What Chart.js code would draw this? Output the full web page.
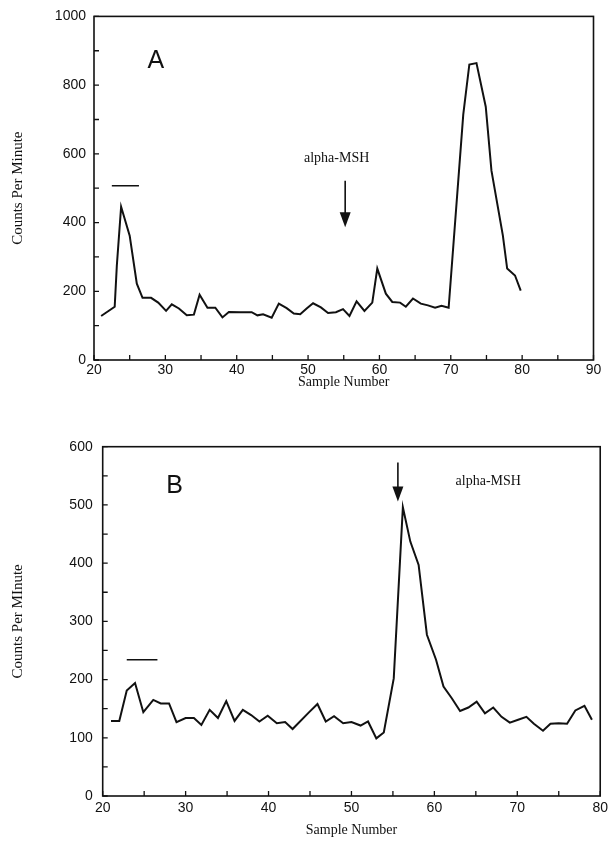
<!DOCTYPE html>
<html>
<head>
<meta charset="utf-8">
<script src="https://cdn.jsdelivr.net/npm/chart.js@4.4.1/dist/chart.umd.min.js"></script>
<style>
  html, body { margin: 0; padding: 0; background: #fff; }
  canvas { position: absolute; left: 0; }
  #chartA { top: 0; }
  #chartB { top: 400px; }
</style>
</head>
<body>
<canvas id="chartA" width="612" height="400"></canvas>
<canvas id="chartB" width="612" height="447"></canvas>
<script>
"use strict";
const INK = '#111111';

// Panel A : sample number / counts per minute
const sampleA = [21, 22.9, 23.2, 23.8, 25.0, 26.0, 26.8, 28.0, 29.0, 30.1, 30.9, 31.9, 33.0, 34.0, 34.8, 35.9, 37.0, 38.0, 38.9, 40.5,
  42.1, 42.9, 43.7, 44.9, 45.9, 47.0, 48.0, 48.9, 49.8, 50.7, 51.8, 52.8, 53.9, 54.9, 55.8, 56.8, 57.9, 59.0, 59.7, 60.9,
  61.8, 62.9, 63.7, 64.7, 65.8, 66.8, 67.8, 68.7, 69.7, 71.75, 72.6, 73.6, 74.9, 75.7, 77.3, 77.9, 79.0, 79.8];
const countsA = [128, 155, 275, 446, 362, 222, 181, 181, 167, 143, 162, 150, 130, 132, 190, 152, 152, 124, 140, 139,
  139, 130, 133, 123, 164, 151, 135, 133, 150, 165, 153, 137, 139, 148, 128, 171, 143, 167, 266, 193,
  169, 167, 155, 179, 164, 159, 152, 158, 152, 715, 860, 864, 737, 551, 362, 266, 246, 202];

// Panel B
const sampleB = [21, 22, 22.9, 23.9, 24.9, 26.1, 27, 28, 28.9, 30, 31, 31.9, 32.9, 33.9, 34.9, 35.9, 36.9, 37.9, 38.9, 39.9,
  41, 42, 42.9, 44.9, 45.9, 46.9, 47.9, 49, 50, 51.1, 52, 53, 53.9, 55.1, 56.2, 57.1, 58.1, 59.1, 60.2, 61.1,
  62.1, 63.1, 64.1, 65.1, 66.1, 67.1, 68.1, 69.1, 70.1, 71.1, 72, 73.1, 74, 75, 76, 77, 78.1, 79];
const countsB = [129, 129, 181, 194, 144, 165, 159, 159, 127, 134, 134, 122, 148, 134, 163, 129, 148, 139, 128, 138,
  125, 127, 115, 144, 158, 128, 137, 125, 127, 121, 128, 99, 109, 202, 496, 437, 397, 277, 234, 188,
  168, 146, 152, 162, 142, 152, 136, 126, 131, 136, 124, 112, 124, 125, 124, 147, 155, 131];

// notes drawn on the plots (data coordinates)
const notesA = { letter: ['A', 28.65, 870], bar: [22.5, 26.3, 507], text: ['alpha-MSH', 54.0, 588], arrow: [55.2, 522, 386] };
const notesB = { letter: ['B', 28.66, 532], bar: [22.9, 26.6, 234], text: ['alpha-MSH', 66.5, 541], arrow: [55.6, 573, 506] };

// cadre + graduations vers l'intérieur + annotations
const boxTicks = {
  id: 'boxTicks',
  afterDraw(chart, args, opts) {
    const { ctx, chartArea: a, scales: { x, y } } = chart;
    ctx.save();
    ctx.strokeStyle = INK;
    ctx.fillStyle = INK;
    ctx.lineWidth = 1.6;
    ctx.strokeRect(a.left, a.top, a.right - a.left, a.bottom - a.top);
    ctx.lineWidth = 1.3;
    ctx.beginPath();
    for (let v = x.min; v <= x.max; v += opts.xStep) {
      const px = x.getPixelForValue(v);
      ctx.moveTo(px, a.bottom);
      ctx.lineTo(px, a.bottom - 5);
    }
    for (let v = y.min; v <= y.max; v += opts.yStep) {
      const py = y.getPixelForValue(v);
      ctx.moveTo(a.left, py);
      ctx.lineTo(a.left + 5, py);
    }
    ctx.stroke();

    const n = opts.notes;
    ctx.textAlign = 'center';
    ctx.textBaseline = 'middle';
    ctx.font = '25px "Liberation Sans", Arial, sans-serif';
    ctx.fillText(n.letter[0], x.getPixelForValue(n.letter[1]), y.getPixelForValue(n.letter[2]));
    ctx.font = '14px "Liberation Serif", "Times New Roman", serif';
    ctx.fillText(n.text[0], x.getPixelForValue(n.text[1]), y.getPixelForValue(n.text[2]));

    ctx.lineWidth = 1.6;
    ctx.beginPath();
    const by = y.getPixelForValue(n.bar[2]);
    ctx.moveTo(x.getPixelForValue(n.bar[0]), by);
    ctx.lineTo(x.getPixelForValue(n.bar[1]), by);
    const ax = x.getPixelForValue(n.arrow[0]);
    const ay0 = y.getPixelForValue(n.arrow[1]);
    const ay1 = y.getPixelForValue(n.arrow[2]);
    ctx.moveTo(ax, ay0);
    ctx.lineTo(ax, ay1 - 10);
    ctx.stroke();
    ctx.beginPath();
    ctx.moveTo(ax - 5.5, ay1 - 15);
    ctx.lineTo(ax + 5.5, ay1 - 15);
    ctx.lineTo(ax, ay1);
    ctx.closePath();
    ctx.fill();
    ctx.restore();
  }
};

function makeChart(id, xs, ys, cfg) {
  const points = xs.map((s, i) => ({ x: s, y: ys[i] }));
  const tickFont = { family: '"Liberation Sans", Arial, sans-serif', size: 14 };
  return new Chart(document.getElementById(id), {
    type: 'line',
    data: {
      datasets: [{
        data: points,
        borderColor: INK,
        borderWidth: 2,
        pointRadius: 0,
        tension: 0,
        fill: false
      }]
    },
    options: {
      responsive: false,
      animation: false,
      layout: { padding: cfg.padding },
      plugins: {
        legend: { display: false },
        tooltip: { enabled: false },
        boxTicks: cfg.marks
      },
      scales: {
        x: {
          type: 'linear',
          min: cfg.xMin, max: cfg.xMax,
          grid: { display: false, drawTicks: false, tickLength: 0 },
          border: { display: false },
          ticks: { stepSize: 10, padding: cfg.xTickPad, color: INK, font: tickFont, callback: v => String(v) },
          title: { display: true, text: 'Sample Number', color: INK, padding: { top: 0, bottom: cfg.xTitlePad },
            font: { family: '"Liberation Serif", "Times New Roman", serif', size: 14 } },
          afterFit: s => { s.height = cfg.xHeight; }
        },
        y: {
          min: 0, max: cfg.yMax,
          grid: { display: false, drawTicks: false, tickLength: 0 },
          border: { display: false },
          ticks: { stepSize: cfg.yStep, padding: cfg.yTickPad, color: INK, font: tickFont, callback: v => String(v) },
          title: { display: true, text: cfg.yTitle, color: INK, padding: { top: 9, bottom: 0 },
            font: { family: '"Liberation Serif", "Times New Roman", serif', size: 15 } },
          afterFit: s => { s.width = cfg.yWidth; }
        }
      }
    },
    plugins: [boxTicks]
  });
}

window.addEventListener('DOMContentLoaded', () => {
  makeChart('chartA', sampleA, countsA, {
    padding: { top: 15, right: 18.5, left: 0, bottom: 0 },
    xMin: 20, xMax: 90, xHeight: 40, xTickPad: 2, xTitlePad: 9.5,
    yMax: 1000, yStep: 200, yTickPad: 8, yWidth: 94, yTitle: 'Counts Per Minute',
    marks: { xStep: 5, yStep: 100, notes: notesA }
  });
  makeChart('chartB', sampleB, countsB, {
    padding: { top: 46.7, right: 8, left: 0, bottom: 0 },
    xMin: 20, xMax: 80, xHeight: 51, xTickPad: 4, xTitlePad: 8,
    yMax: 600, yStep: 100, yTickPad: 10, yWidth: 102.7, yTitle: 'Counts Per MInute',
    marks: { xStep: 5, yStep: 50, notes: notesB }
  });
});
</script>
</body>
</html>
